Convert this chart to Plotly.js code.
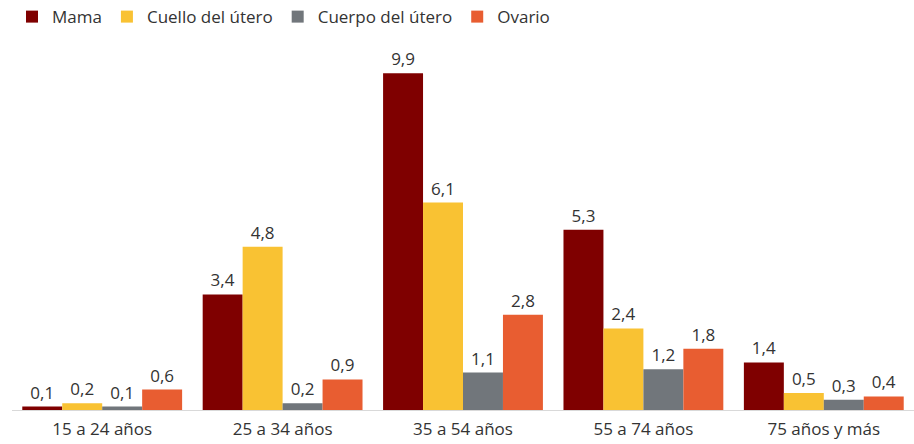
<!DOCTYPE html>
<html>
<head>
<meta charset="utf-8">
<script src="https://cdn.plot.ly/plotly-3.0.1.min.js"></script>
<style>html,body{margin:0;padding:0;background:#fff;}#chart{width:914px;height:444px;}</style>
</head>
<body>
<div id="chart"></div>
<script>
const categories = ["15 a 24 años", "25 a 34 años", "35 a 54 años", "55 a 74 años", "75 años y más"];
const seriesNames = ["Mama", "Cuello del útero", "Cuerpo del útero", "Ovario"];
const mama = [0.1, 3.4, 9.9, 5.3, 1.4];
const cuello = [0.2, 4.8, 6.1, 2.4, 0.5];
const cuerpo = [0.1, 0.2, 1.1, 1.2, 0.3];
const ovario = [0.6, 0.9, 2.8, 1.8, 0.4];
const colors = ["#7f0000", "#f9c233", "#71767b", "#e85d31"];

const FONT = "'Open Sans', sans-serif";
const values = [mama, cuello, cuerpo, ovario];
const traces = values.map((v, i) => ({
  type: "bar",
  name: seriesNames[i],
  x: categories,
  y: v,
  marker: {color: colors[i]},
  texttemplate: "%{y:.1f}",
  textposition: "outside",
  cliponaxis: false,
  textfont: {family: FONT, size: 17, color: "#333333"},
  hoverinfo: "skip"
}));

const layout = {
  width: 914, height: 444,
  margin: {l: 12, r: 0, t: 40, b: 34, autoexpand: false},
  barmode: "group",
  bargap: 0.114,
  bargroupgap: 0,
  separators: ", ",
  paper_bgcolor: "#ffffff",
  plot_bgcolor: "#ffffff",
  font: {family: FONT, size: 17, color: "#333333"},
  showlegend: true,
  legend: {orientation: "h", x: 0, xanchor: "left", y: 1.062, yanchor: "middle",
           font: {family: FONT, size: 17, color: "#333333"}, itemwidth: 30, traceorder: "normal"},
  xaxis: {showline: true, linecolor: "#d9d9d9", linewidth: 1, ticks: "", showgrid: false,
          ticklabelstandoff: 4,
          tickfont: {family: FONT, size: 17, color: "#333333"}},
  yaxis: {range: [0, 10.88], visible: false, showgrid: false, zeroline: false}
};

Plotly.newPlot("chart", traces, layout, {displayModeBar: false, staticPlot: true});
</script>
</body>
</html>
